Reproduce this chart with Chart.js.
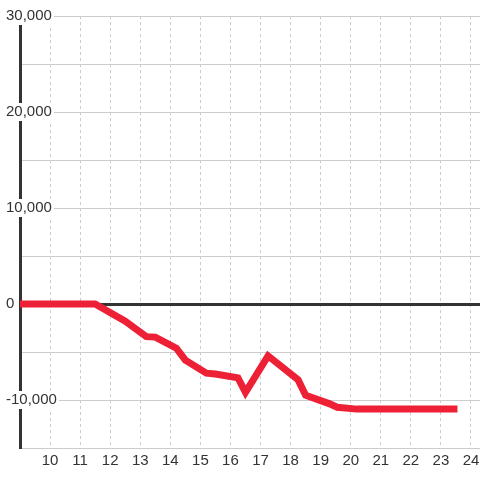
<!DOCTYPE html>
<html>
<head>
<meta charset="utf-8">
<script src="https://cdn.jsdelivr.net/npm/chart.js@4/dist/chart.umd.min.js"></script>
<style>
  html, body { margin: 0; padding: 0; background: #fff; }
  #wrap { width: 480px; height: 480px; position: relative; }
</style>
</head>
<body>
<div id="wrap"><canvas id="chart"></canvas></div>
<script>
// Hour of day for each point
const hours = [9, 11.5, 12.5, 13.2, 13.5, 14.2, 14.5, 15.2, 15.5, 16.25, 16.5, 17.25, 18.25, 18.5, 19.3, 19.55, 20.2, 23.55];
// Running value
const values = [0, 0, -1800, -3400, -3450, -4600, -5850, -7200, -7300, -7700, -9200, -5400, -7900, -9500, -10400, -10750, -10950, -10950];

const xMin = 9, xMax = 24.3;
const yMin = -15000, yMax = 30000, yStep = 5000, yLabelStep = 10000;

const textColor = '#333';
const gridColor = '#ccc';
const lineColor = '#ED2035';
const font = { family: '"Liberation Sans", Arial, sans-serif', size: 15 };

const points = hours.map((h, i) => ({ x: h, y: values[i] }));

new Chart(document.getElementById('chart').getContext('2d'), {
    type: 'line',
    data: {
        datasets: [{
            data: points,
            borderColor: lineColor,
            borderWidth: 7,
            pointRadius: 0,
            fill: false,
            tension: 0
        }]
    },
    options: {
        responsive: true,
        maintainAspectRatio: false,
        animation: false,
        layout: { padding: { top: 16, left: 0, right: 0, bottom: 0 } },
        plugins: {
            legend: { display: false },
            tooltip: { enabled: false }
        },
        scales: {
            x: {
                type: 'linear',
                min: xMin,
                max: xMax,
                // no extra room for edge labels
                afterFit: (s) => { s.height = 32; s.paddingLeft = 0; s.paddingRight = 0; },
                ticks: {
                    stepSize: 1,
                    includeBounds: false,
                    autoSkip: false,
                    maxRotation: 0,
                    padding: 4,
                    color: textColor,
                    font,
                    callback: (v) => (v === xMin ? '' : v)
                },
                grid: { color: gridColor, lineWidth: 1, drawTicks: false },
                border: { display: false, dash: [3, 3] }
            },
            y: {
                min: yMin,
                max: yMax,
                afterFit: (s) => { s.width = 20; },
                ticks: {
                    stepSize: yStep,
                    mirror: true,
                    padding: -14,
                    color: textColor,
                    font,
                    showLabelBackdrop: true,
                    backdropColor: '#fff',
                    backdropPadding: { top: 0, bottom: 0, left: 2, right: 2 },
                    callback: (v) => (v % yLabelStep === 0 ? v.toLocaleString('en-US') : '')
                },
                grid: {
                    drawTicks: false,
                    color: (c) => (c.tick && c.tick.value === 0 ? '#333' : gridColor),
                    lineWidth: (c) => (c.tick && c.tick.value === 0 ? 3 : 1)
                },
                border: { display: true, color: '#333', width: 3 }
            }
        }
    }
});
</script>
</body>
</html>
